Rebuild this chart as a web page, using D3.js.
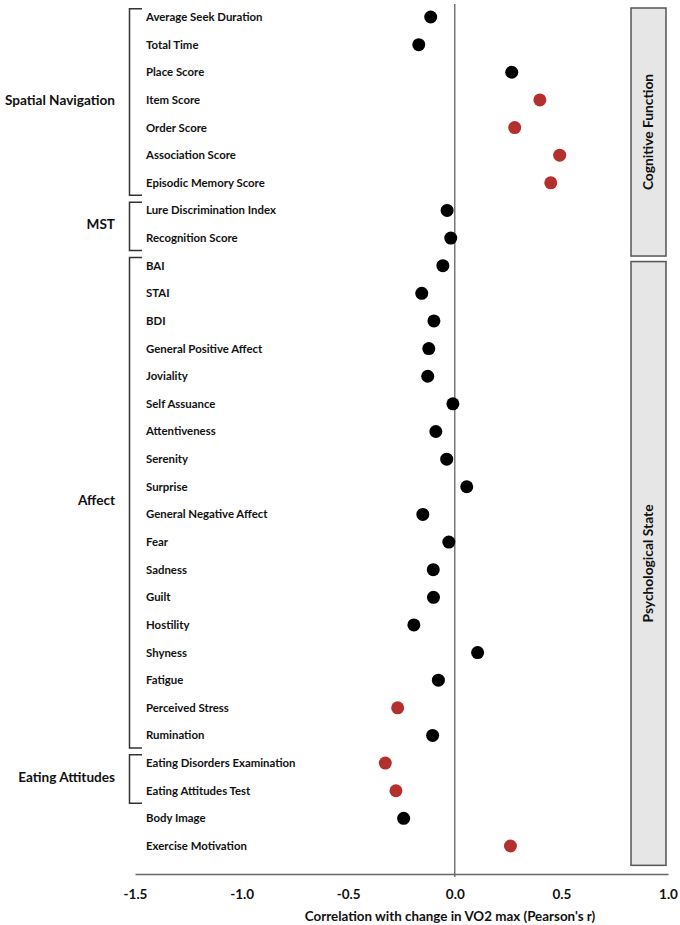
<!DOCTYPE html>
<html>
<head>
<meta charset="utf-8">
<script src="https://cdn.jsdelivr.net/npm/d3@7"></script>
<style>
  html, body { margin: 0; padding: 0; background: #fff; }
  svg { display: block; font-family: Lato, "Open Sans", sans-serif; }
</style>
</head>
<body>
<svg id="chart" width="680" height="925"></svg>
<script>
// ---- data ----
const measures = [
  "Average Seek Duration", "Total Time", "Place Score", "Item Score", "Order Score",
  "Association Score", "Episodic Memory Score", "Lure Discrimination Index", "Recognition Score",
  "BAI", "STAI", "BDI", "General Positive Affect", "Joviality", "Self Assuance",
  "Attentiveness", "Serenity", "Surprise", "General Negative Affect", "Fear", "Sadness",
  "Guilt", "Hostility", "Shyness", "Fatigue", "Perceived Stress", "Rumination",
  "Eating Disorders Examination", "Eating Attitudes Test", "Body Image", "Exercise Motivation"
];
const correlations = [
  -0.113, -0.169, 0.267, 0.399, 0.281, 0.492, 0.450, -0.036, -0.019,
  -0.056, -0.155, -0.098, -0.122, -0.127, -0.009, -0.089, -0.038, 0.056,
  -0.150, -0.028, -0.101, -0.100, -0.192, 0.107, -0.077, -0.268, -0.104,
  -0.326, -0.276, -0.240, 0.261
];
const significant = [
  false, false, false, true, true, true, true, false, false,
  false, false, false, false, false, false, false, false, false,
  false, false, false, false, false, false, false, true, false,
  true, true, false, true
];
const groupNames = ["Spatial Navigation", "MST", "Affect", "Eating Attitudes"];
const groupFirst = ["Average Seek Duration", "Lure Discrimination Index", "BAI", "Eating Disorders Examination"];
const groupLast = ["Episodic Memory Score", "Recognition Score", "Rumination", "Eating Attitudes Test"];
const domainNames = ["Cognitive Function", "Psychological State"];
const domainFirst = ["Average Seek Duration", "BAI"];
const domainLast = ["Recognition Score", "Exercise Motivation"];
const xTicks = [-1.5, -1.0, -0.5, 0.0, 0.5, 1.0];
const xTitle = "Correlation with change in VO2 max (Pearson's r)";

// ---- scales ----
const svg = d3.select("#chart");
const x = d3.scaleLinear().domain([-1.5, 1.0]).range([135, 668]);
const y = d3.scalePoint().domain(measures).range([17, 846]);
const step = y.step();
const axisY = 874;

// zero line
svg.append("line")
  .attr("x1", x(0)).attr("x2", x(0))
  .attr("y1", 4).attr("y2", axisY + 3)
  .attr("stroke", "#555").attr("stroke-width", 1.2);

// x axis
const axis = svg.append("g")
  .attr("transform", `translate(0,${axisY})`)
  .call(d3.axisBottom(x).tickValues(xTicks).tickSize(0).tickPadding(15)
    .tickFormat(d => d.toFixed(1)));
axis.select(".domain").attr("stroke", "#666").attr("stroke-width", 1.5);
axis.selectAll("text")
  .attr("font-family", "Lato, sans-serif")
  .attr("font-weight", "bold")
  .attr("font-size", 13.5)
  .attr("fill", "#111");

svg.append("text")
  .attr("x", 450).attr("y", 921)
  .attr("text-anchor", "middle")
  .attr("font-size", 13.4)
  .attr("font-weight", "bold")
  .attr("fill", "#111")
  .text(xTitle);

// item labels
svg.append("g").selectAll("text")
  .data(measures)
  .join("text")
  .attr("x", 146)
  .attr("y", d => y(d))
  .attr("dy", "0.35em")
  .attr("font-size", 11.4)
  .attr("font-weight", "bold")
  .attr("fill", "#111")
  .text(d => d);

// group brackets
const groups = groupNames.map((n, i) => ({ name: n, first: groupFirst[i], last: groupLast[i] }));
const br = svg.append("g");
groups.forEach(g => {
  const top = y(g.first) - 0.3 * step;
  const bot = y(g.last) + 0.45 * step;
  br.append("path")
    .attr("d", `M142,${top}H129.5V${bot}H142`)
    .attr("fill", "none")
    .attr("stroke", "#333")
    .attr("stroke-width", 1.5);
  br.append("text")
    .attr("x", 115)
    .attr("y", (y(g.first) + y(g.last)) / 2)
    .attr("dy", "0.35em")
    .attr("text-anchor", "end")
    .attr("font-size", 13.6)
    .attr("font-weight", "bold")
    .attr("fill", "#111")
    .text(g.name);
});

// right domain panels
const domains = domainNames.map((n, i) => ({ name: n, first: domainFirst[i], last: domainLast[i] }));
const dp = svg.append("g");
domains.forEach((d, i) => {
  const top = i === 0 ? 8 : y(d.first) - 0.15 * step;
  const bot = i === 0 ? y(d.last) + 0.65 * step : y(d.last) + 0.7 * step;
  dp.append("rect")
    .attr("x", 631).attr("y", top)
    .attr("width", 35).attr("height", bot - top)
    .attr("fill", "#e6e6e6")
    .attr("stroke", "#555")
    .attr("stroke-width", 1.5);
  const cy = (top + bot) / 2;
  dp.append("text")
    .attr("transform", `translate(648.5,${cy}) rotate(-90)`)
    .attr("text-anchor", "middle")
    .attr("dy", "0.35em")
    .attr("font-size", 13.8)
    .attr("font-weight", "bold")
    .attr("fill", "#111")
    .text(d.name);
});

// dots
svg.append("g").selectAll("circle")
  .data(measures.map((m, i) => ({ m, r: correlations[i], sig: significant[i] })))
  .join("circle")
  .attr("cx", d => x(d.r))
  .attr("cy", d => y(d.m))
  .attr("r", 6.5)
  .attr("fill", d => d.sig ? "#b3302d" : "#000");
</script>
</body>
</html>
